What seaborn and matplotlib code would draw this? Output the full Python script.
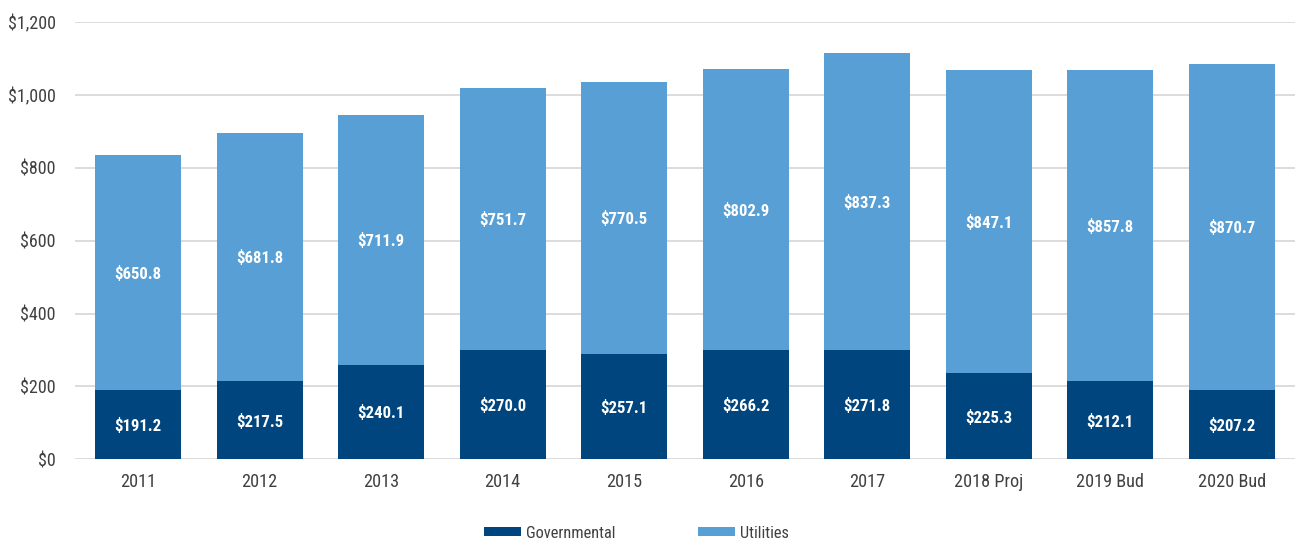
import numpy as np
import pandas as pd
import matplotlib
matplotlib.use("Agg")
import matplotlib.pyplot as plt
import seaborn as sns
from matplotlib.patches import Patch
from matplotlib import font_manager
from matplotlib.font_manager import FontProperties
from matplotlib.textpath import TextPath

# ---- data ----
categories = ["2011", "2012", "2013", "2014", "2015", "2016", "2017",
              "2018 Proj", "2019 Bud", "2020 Bud"]
# segment heights as drawn in the reference
gov_heights = [190, 215, 260, 300, 289, 300, 300, 237, 215, 190]
util_heights = [645, 681, 685, 719, 747, 771, 815, 832, 854, 895]
# printed labels
gov_labels = [191.2, 217.5, 240.1, 270.0, 257.1, 266.2, 271.8, 225.3, 212.1, 207.2]
util_labels = [650.8, 681.8, 711.9, 751.7, 770.5, 802.9, 837.3, 847.1, 857.8, 870.7]
y_ticks = [0, 200, 400, 600, 800, 1000, 1200]
series_names = ["Governmental", "Utilities"]

DARK = "#00457e"
LIGHT = "#589fd5"
TEXT = "#404040"

sns.set_theme(style="white")
available = {f.name for f in font_manager.fontManager.ttflist}
candidates = ["Roboto Condensed", "Liberation Sans Narrow", "Open Sans Condensed",
              "Noto Sans Condensed", "DejaVu Sans Condensed", "Lato", "Roboto"]
family = next((c for c in candidates if c in available), "DejaVu Sans")
plt.rcParams["font.family"] = [family, "DejaVu Sans"]


def fit_size(text, target_px, weight="normal"):
    fp = FontProperties(family=family, weight=weight, size=10)
    w = TextPath((0, 0), text, prop=fp).get_extents().width  # in points at size 10
    return 10 * (target_px * 72 / 100) / w


tick_size = fit_size("$1,200", 46)
xt_size = fit_size("2011", 32)
tick_size = min(tick_size, xt_size) if abs(tick_size - xt_size) < 3 else tick_size
lab_size = fit_size("$191.2", 46, "bold")
leg_size = fit_size("Governmental", 88)

W, H = 1295, 544
fig = plt.figure(figsize=(W / 100, H / 100), dpi=100)
left, right, bottom_px, top_px = 75, 1295, 459.3, 22
ax = fig.add_axes([left / W, (H - bottom_px) / H, (right - left) / W, (bottom_px - top_px) / H])

df = pd.DataFrame({
    "cat": categories,
    "gov": gov_heights,
    "total": np.array(gov_heights) + np.array(util_heights),
})

sns.barplot(data=df, x="cat", y="total", color=LIGHT, saturation=1, width=0.707,
            errorbar=None, ax=ax, linewidth=0)
sns.barplot(data=df, x="cat", y="gov", color=DARK, saturation=1, width=0.707,
            errorbar=None, ax=ax, linewidth=0)

for i, (g, u, gl, ul) in enumerate(zip(gov_heights, util_heights, gov_labels, util_labels)):
    ax.text(i, g / 2 - 4, f"${gl:.1f}", ha="center", va="center", color="white",
            fontsize=lab_size, fontweight="bold")
    ax.text(i, g + u / 2 - 4, f"${ul:.1f}", ha="center", va="center", color="white",
            fontsize=lab_size, fontweight="bold")

ax.set_xlim(-0.52, len(categories) - 0.48)
ax.set_ylim(0, 1200)
ax.set_yticks(y_ticks)
ax.set_yticklabels([f"${v:,}" for v in y_ticks])
ax.set_xlabel("")
ax.set_ylabel("")
ax.yaxis.grid(True, color="#d9d9d9", linewidth=1.3)
ax.xaxis.grid(False)
ax.set_axisbelow(True)
for s in ax.spines.values():
    s.set_visible(False)
ax.tick_params(axis="y", length=0, pad=14, labelsize=tick_size, labelcolor=TEXT)
ax.tick_params(axis="x", length=0, pad=10, labelsize=xt_size, labelcolor=TEXT)

handles = [Patch(facecolor=DARK, edgecolor="none"), Patch(facecolor=LIGHT, edgecolor="none")]
fig.legend(handles, series_names, loc="center", bbox_to_anchor=(636.5 / W, 11 / H),
           ncol=2, frameon=False, fontsize=leg_size, handlelength=37 / (leg_size * 100 / 72),
           handleheight=8 / (leg_size * 100 / 72),
           handletextpad=0.3, columnspacing=83 / (leg_size * 100 / 72), borderpad=0,
           labelcolor=TEXT)

fig.savefig("out.png", dpi=100)
